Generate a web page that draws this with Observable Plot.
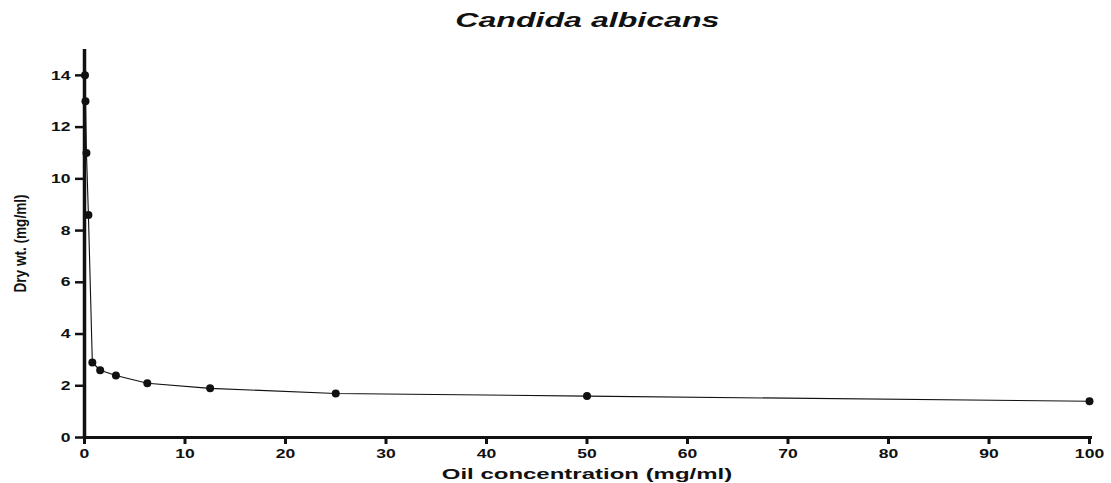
<!DOCTYPE html>
<html><head><meta charset="utf-8">
<script src="https://cdn.jsdelivr.net/npm/d3@7"></script>
<script src="https://cdn.jsdelivr.net/npm/@observablehq/plot@0.6"></script>
<style>
body{margin:0;background:#fff;}
#title{height:40px;line-height:40px;text-align:center;padding-left:64px;}
#title span{display:inline-block;font-family:"Liberation Sans",Arial,sans-serif;font-weight:bold;font-style:italic;font-size:21px;color:#111;transform:scaleX(1.53);}
</style>
</head><body>
<div id="title"><span>Candida albicans</span></div>
<div id="chart"></div>
<script>
const concentration = [0.049, 0.098, 0.195, 0.39, 0.78, 1.56, 3.125, 6.25, 12.5, 25, 50, 100];
const dryWeight = [14, 13, 11, 8.6, 2.9, 2.6, 2.4, 2.1, 1.9, 1.7, 1.6, 1.4];
const xTicks = [0, 10, 20, 30, 40, 50, 60, 70, 80, 90, 100];
const yTicks = [0, 2, 4, 6, 8, 10, 12, 14];
const xLabel = "Oil concentration (mg/ml)";
const yLabel = "Dry wt. (mg/ml)";

const data = concentration.map((c, i) => ({c, w: dryWeight[i]}));
const font = "Liberation Sans, Arial, sans-serif";

const chart = Plot.plot({
  width: 1111,
  height: 443,
  marginLeft: 84,
  marginRight: 22,
  marginTop: 9,
  marginBottom: 46,
  style: {background: "#fff", color: "#111"},
  x: {domain: [0, 100]},
  y: {domain: [0, 15]},
  marks: [
    Plot.line(data, {x: "c", y: "w", stroke: "#111", strokeWidth: 1.1}),
    Plot.dot(data, {x: "c", y: "w", r: 4, fill: "#111", stroke: "none"}),
    Plot.ruleX([0], {y1: 0, y2: 15, stroke: "#111", strokeWidth: 3.5}),
    Plot.ruleY([0], {x1: 0, x2: 100.3, stroke: "#111", strokeWidth: 3}),
    Plot.axisY({ticks: yTicks, tickSize: 9, strokeWidth: 2.5, tickPadding: 5, fontSize: 13, fontWeight: "bold", fontFamily: font, label: null}),
    Plot.axisX({ticks: xTicks, tickSize: 7, strokeWidth: 3, tickPadding: 4, fontSize: 13, fontWeight: "bold", fontFamily: font, label: null}),
    Plot.text([xLabel], {frameAnchor: "bottom", lineAnchor: "middle", textAnchor: "middle", dy: 37, text: d => d, fontSize: 15, fontWeight: "bold", fontFamily: font, fill: "#111", className: "xlab"}),
    Plot.text([yLabel], {frameAnchor: "left", lineAnchor: "middle", textAnchor: "middle", dx: -64, dy: 0, rotate: -90, text: d => d, fontSize: 16, fontWeight: "bold", fontFamily: font, fill: "#111", className: "ylab"})
  ]
});
document.getElementById("chart").appendChild(chart);

// horizontal stretch of the reference's lettering
function stretch(sel, sx) {
  d3.select(chart).selectAll(sel).each(function() {
    const t = this.getAttribute("transform") || "";
    this.setAttribute("transform", t + ` scale(${sx},1)`);
  });
}
stretch('g[aria-label="y-axis tick label"] text', 1.35);
stretch('g[aria-label="x-axis tick label"] text', 1.35);
stretch('.xlab text, text.xlab', 1.6);
stretch('.ylab text, text.ylab', 0.85);
</script>
</body></html>
